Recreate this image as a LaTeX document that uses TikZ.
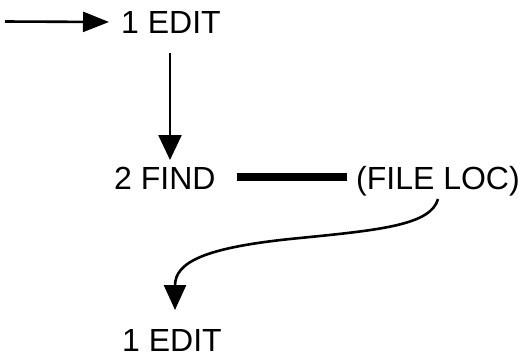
\documentclass[tikz,border=0pt]{standalone}
\usepackage{fontspec}
\setmainfont{Liberation Sans}
\usetikzlibrary{arrows.meta}
\begin{document}
\begin{tikzpicture}[x=1pt,y=-1pt,
  cmd/.style={inner sep=0pt,anchor=base west,font=\fontsize{32}{32}\selectfont},
  flow/.style={line width=2.6pt}]
\useasboundingbox (0,0) rectangle (531,360);
% commands
\node[cmd] (edit1) at (121,33) {1 EDIT};
\node[cmd] (find) at (114,189) {2 FIND};
\node[cmd] (loc) at (356,189) {(FILE LOC)};
\node[cmd] (edit2) at (122,351) {1 EDIT};
% entry arrow
\coordinate (entry) at ([xshift=-12pt]edit1.west);
\coordinate (start) at (5,21.5);
\draw[flow,-{Triangle[length=26pt,width=20pt]}] (start) -- (entry);
% edit -> find
\coordinate (down1) at (170,53);
\coordinate (down2) at (170,160);
\draw[flow,-{Triangle[length=25pt,width=23pt]}] (down1) -- (down2);
% find -- file location
\draw[line width=8pt] ([xshift=21pt,yshift=12pt]find.base east) -- ([xshift=-9pt,yshift=12pt]loc.base west);
% file location -> edit
\coordinate (from) at (438,199);
\coordinate (to) at (175,310);
\draw[flow,-{Triangle[length=25pt,width=22pt]}] (from)
  .. controls (431,225) and (380,230) .. (300,238)
  .. controls (205,247) and (175,262) .. (to);
\end{tikzpicture}
\end{document}
